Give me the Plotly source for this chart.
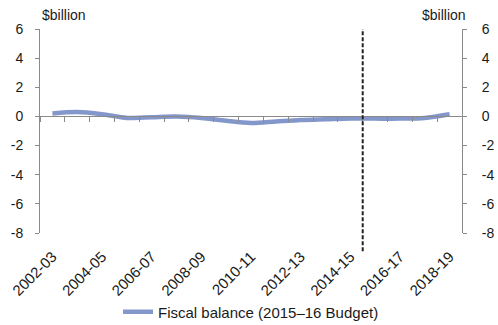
import plotly.graph_objects as go

# Financial years and fiscal balance ($billion)
years = ["2002-03", "2003-04", "2004-05", "2005-06", "2006-07", "2007-08",
         "2008-09", "2009-10", "2010-11", "2011-12", "2012-13", "2013-14",
         "2014-15", "2015-16", "2016-17", "2017-18", "2018-19"]
fiscal_balance = [0.2, 0.3, 0.15, -0.1, -0.05, 0.0, -0.1, -0.3, -0.45,
                  -0.35, -0.25, -0.2, -0.15, -0.15, -0.15, -0.1, 0.15]
label_years = years[::2]
y_ticks = [6, 4, 2, 0, -2, -4, -6, -8]
y_tick_text = [str(v) for v in y_ticks]  # plain hyphen for negatives
series_name = "Fiscal balance (2015–16 Budget)"
budget_year = "2015-16"

FONT = "Liberation Sans, Arial, sans-serif"
AXIS_GREY = "#8a8a8a"
TEXT = "#1a1a1a"
LINE_BLUE = "#8497cb"

y_min, y_max = -8, 6
zero_pos = (0 - y_min) / (y_max - y_min)  # paper position of the zero line

fig = go.Figure()
fig.add_trace(go.Scatter(
    x=years, y=fiscal_balance, mode="lines", name=series_name,
    line=dict(color=LINE_BLUE, width=4.5, shape="spline", smoothing=0.8),
    xaxis="x", yaxis="y"))
# carrier traces so the secondary axes are drawn
fig.add_trace(go.Scatter(x=years, y=fiscal_balance, mode="lines",
                         line=dict(color="rgba(0,0,0,0)"), showlegend=False,
                         hoverinfo="skip", xaxis="x2", yaxis="y"))
fig.add_trace(go.Scatter(x=years, y=fiscal_balance, mode="lines",
                         line=dict(color="rgba(0,0,0,0)"), showlegend=False,
                         hoverinfo="skip", xaxis="x", yaxis="y2"))

# vertical dashed marker between actuals and budget estimates
marker_x = years.index(budget_year) - 0.5
fig.add_shape(type="line", xref="x", yref="paper", x0=marker_x, x1=marker_x,
              y0=-0.09, y1=1.0, line=dict(color="#222", width=2, dash="4px,2px"))

ytick_style = dict(range=[y_min, y_max], tickvals=y_ticks, ticktext=y_tick_text,
                   ticks="outside", ticklen=4, tickcolor=AXIS_GREY,
                   showline=True, linecolor=AXIS_GREY, linewidth=1,
                   showgrid=False, zeroline=False, automargin=False,
                   tickfont=dict(family=FONT, size=14, color=TEXT))

fig.update_layout(
    width=498, height=325,
    margin=dict(l=40, r=36, t=29, b=92, autoexpand=False),
    paper_bgcolor="white", plot_bgcolor="white",
    showlegend=True,
    legend=dict(orientation="h", x=0.5, xanchor="center", y=-0.387,
                yanchor="middle", font=dict(family=FONT, size=15, color=TEXT),
                bgcolor="rgba(0,0,0,0)"),
    xaxis=dict(type="category", categoryorder="array", categoryarray=years,
               range=[-0.5, len(years) - 0.5], tickvals=label_years,
               ticks="", showline=False, showgrid=False, zeroline=False,
               automargin=False, ticklabelstandoff=11,
               tickangle=-45, tickfont=dict(family=FONT, size=15, color=TEXT)),
    xaxis2=dict(type="category", categoryorder="array", categoryarray=years,
                range=[-0.5, len(years) - 0.5], overlaying="x", anchor="free",
                position=zero_pos, tickson="boundaries", ticks="outside",
                ticklen=5, tickcolor=AXIS_GREY, showticklabels=False,
                showline=True, linecolor=AXIS_GREY, linewidth=1,
                showgrid=False, zeroline=False, automargin=False),
    yaxis=dict(side="left", ticklabelstandoff=9, **ytick_style),
    yaxis2=dict(side="right", overlaying="y", anchor="x",
                ticklabelstandoff=12, **ytick_style),
    annotations=[
        dict(text="$billion", xref="paper", yref="paper", x=0, y=1,
             xanchor="left", yanchor="bottom", yshift=4, showarrow=False,
             font=dict(family=FONT, size=14, color=TEXT)),
        dict(text="$billion", xref="paper", yref="paper", x=1, y=1,
             xanchor="right", yanchor="bottom", xshift=6, yshift=4,
             showarrow=False, font=dict(family=FONT, size=14, color=TEXT)),
    ],
)

fig.write_html("out.html")
